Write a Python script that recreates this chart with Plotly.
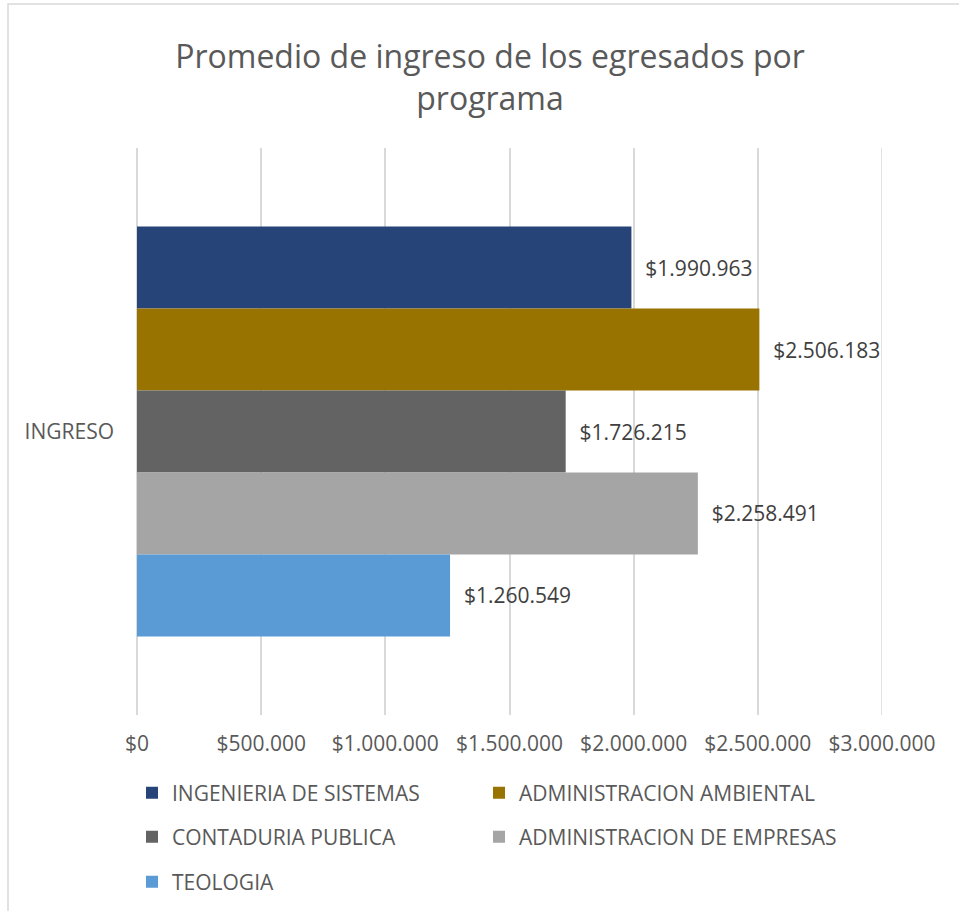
import plotly.graph_objects as go

# datos del grafico
categoria = ['INGRESO']
programas = ['INGENIERIA DE SISTEMAS', 'ADMINISTRACION AMBIENTAL', 'CONTADURIA PUBLICA',
             'ADMINISTRACION DE EMPRESAS', 'TEOLOGIA']
ingresos = [1990963, 2506183, 1726215, 2258491, 1260549]
colores = ['#264478', '#997300', '#636363', '#A5A5A5', '#5B9BD5']

# eje x
ticks_x = [0, 500000, 1000000, 1500000, 2000000, 2500000, 3000000]
etiquetas_x = ['$0', '$500.000', '$1.000.000', '$1.500.000', '$2.000.000', '$2.500.000', '$3.000.000']

FUENTE = 'Open Sans, Liberation Sans, sans-serif'
NBSP = '\u00a0'
GRIS_LINEA = '#D9D9D9'

# una leyenda por elemento: posicion (columna, fila) en pixeles de la imagen
col_px = [132, 479]
fila_px = [793, 837, 882]

fig = go.Figure()
for i, (nombre, valor, color) in enumerate(zip(programas, ingresos, colores)):
    fig.add_trace(go.Bar(
        y=categoria,
        x=[valor],
        name=nombre,
        orientation='h',
        marker=dict(color=color, line=dict(width=0)),
        texttemplate=NBSP * 2 + '$%{x:,.0f}',
        textposition='outside',
        textfont=dict(size=21, color='#404040', family=FUENTE),
        cliponaxis=False,
        showlegend=True,
        legend='legend' if i == 0 else f'legend{i + 1}',
    ))

leyendas = {}
for i in range(len(programas)):
    clave = 'legend' if i == 0 else f'legend{i + 1}'
    leyendas[clave] = dict(
        orientation='h', xanchor='left', yanchor='middle',
        xref='container', yref='container',
        x=col_px[i % 2] / 959, y=1 - fila_px[i // 2] / 911,
        font=dict(size=21, color='#595959', family=FUENTE),
        bgcolor='rgba(0,0,0,0)', itemclick=False)

fig.update_layout(
    width=959,
    height=911,
    margin=dict(l=137, r=77, t=148, b=196, autoexpand=False),
    paper_bgcolor='white',
    plot_bgcolor='white',
    showlegend=True,
    separators=',.',
    barmode='group',
    bargap=0.277,
    bargroupgap=0,
    title=dict(
        text='Promedio de ingreso de los egresados por<br>programa',
        x=490 / 959, xanchor='center', xref='container',
        y=1 - 68 / 911, yanchor='middle', yref='container',
        font=dict(size=32, color='#595959', family=FUENTE),
    ),
    xaxis=dict(
        range=[0, 3000000],
        tickvals=ticks_x,
        ticktext=etiquetas_x,
        showgrid=True,
        gridcolor=GRIS_LINEA,
        gridwidth=1.5,
        zeroline=True,
        zerolinecolor=GRIS_LINEA,
        zerolinewidth=1.5,
        showline=False,
        ticks='',
        ticklabelstandoff=14,
        tickfont=dict(size=21, color='#595959', family=FUENTE),
    ),
    yaxis=dict(
        autorange='reversed',
        showgrid=False,
        zeroline=False,
        showline=False,
        ticks='',
        ticklabelstandoff=22,
        tickfont=dict(size=21, color='#595959', family=FUENTE),
    ),
    shapes=[
        # marco del grafico
        dict(type='rect', xref='paper', yref='paper',
             x0=(8 - 137) / 745, x1=1.5, y0=-1, y1=1 + (148 - 4) / 567,
             line=dict(color=GRIS_LINEA, width=1.5), layer='below'),
        # ultima linea de cuadricula (en el borde del area)
        dict(type='line', xref='x', yref='paper', x0=ticks_x[-1], x1=ticks_x[-1], y0=0, y1=1,
             line=dict(color=GRIS_LINEA, width=1.5), layer='below'),
    ],
    **leyendas,
)

# quitar el margen del body para que la figura quede en (0, 0)
fig.write_html('out.html', config={'displayModeBar': False},
               post_script="document.body.style.margin='0';")
